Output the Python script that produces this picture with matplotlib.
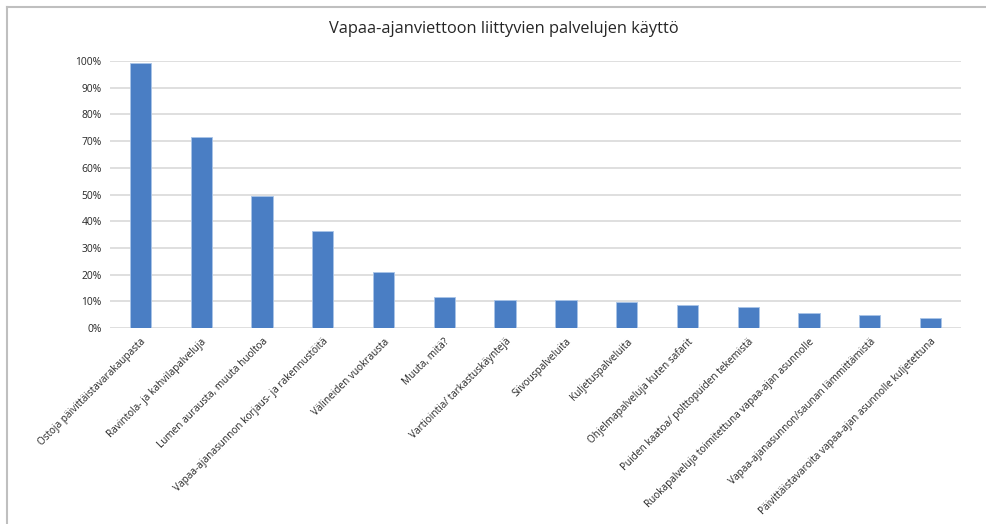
import numpy as np
import matplotlib; matplotlib.use("Agg")
import matplotlib.pyplot as plt
from matplotlib.lines import Line2D
from matplotlib.ticker import PercentFormatter

# Vapaa-ajanviettoon liittyvien palvelujen käyttö (osuus vastaajista)
categories = [
    "Ostoja päivittäistavarakaupasta",
    "Ravintola- ja kahvilapalveluja",
    "Lumen aurausta, muuta huoltoa",
    "Vapaa-ajanasunnon korjaus- ja rakennustöitä",
    "Välineiden vuokrausta",
    "Muuta, mitä?",
    "Vartiointia/ tarkastuskäyntejä",
    "Siivouspalveluita",
    "Kuljetuspalveluita",
    "Ohjelmapalveluja kuten safarit",
    "Puiden kaatoa/ polttopuiden tekemistä",
    "Ruokapalveluja toimitettuna vapaa-ajan asunnolle",
    "Vapaa-ajanasunnon/saunan lämmittämistä",
    "Päivittäistavaroita vapaa-ajan asunnolle kuljetettuna",
]
shares = [0.991, 0.714, 0.496, 0.362, 0.209, 0.116, 0.105, 0.105, 0.097, 0.085, 0.079, 0.058, 0.048, 0.036]
yticks = np.arange(0, 1.01, 0.1)

plt.rcParams["font.family"] = ["Open Sans", "DejaVu Sans"]
fig = plt.figure(figsize=(9.86, 5.24), dpi=100)
ax = fig.add_axes([0.1116, 0.374, 0.863, 0.5096])
x = np.arange(len(categories))
ax.bar(x, shares, width=0.35, color="#4a7ec4", edgecolor="#a9c4e8", lw=0.6, zorder=3)
ax.set_xlim(-0.5, len(categories) - 0.5)
ax.set_ylim(0, 1.0)
ax.set_yticks(yticks)
ax.yaxis.set_major_formatter(PercentFormatter(1.0, decimals=0))
ax.grid(axis="y", color="#d9d9d9", lw=1.2, zorder=0)
for s in ax.spines.values():
    s.set_visible(False)
ax.tick_params(axis="y", length=0, labelsize=7.4, colors="#262626", pad=6)
ax.set_xticks(x)
ax.set_xticklabels(categories, rotation=45, ha="right", va="top", rotation_mode="anchor",
                   fontsize=7.2, color="#262626")
ax.tick_params(axis="x", length=0, pad=6)

fig.text(0.511, 0.945, "Vapaa-ajanviettoon liittyvien palvelujen käyttö", ha="center", va="center",
         fontsize=11.8, color="#262626")
# frame of the screenshot (top and left edge only)
fig.add_artist(Line2D([7 / 986, 1], [1 - 7 / 524] * 2, color="#bfbfbf", lw=1.5, transform=fig.transFigure))
fig.add_artist(Line2D([7 / 986] * 2, [0, 1 - 7 / 524], color="#bfbfbf", lw=1.5, transform=fig.transFigure))
fig.savefig("out.png", dpi=100)
